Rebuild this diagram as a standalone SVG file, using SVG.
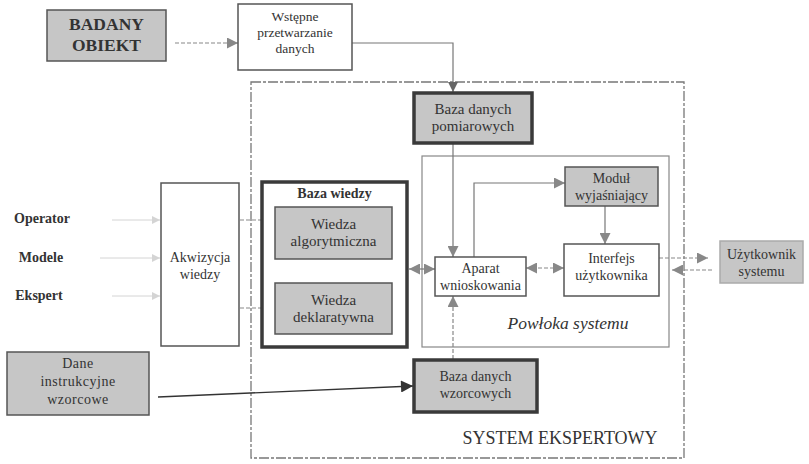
<svg xmlns="http://www.w3.org/2000/svg" width="809" height="464" viewBox="0 0 809 464">
<defs>
<marker id="ah" viewBox="0 0 10 10" refX="10" refY="5" markerWidth="10" markerHeight="10" markerUnits="userSpaceOnUse" orient="auto-start-reverse"><path d="M0,0 L10,5 L0,10 z" fill="#666"/></marker>
<marker id="ahl" viewBox="0 0 10 10" refX="10" refY="5" markerWidth="13" markerHeight="11" markerUnits="userSpaceOnUse" orient="auto-start-reverse"><path d="M0,0 L10,5 L0,10 z" fill="#888"/></marker>
<marker id="ahd" viewBox="0 0 10 10" refX="10" refY="5" markerWidth="13" markerHeight="12" markerUnits="userSpaceOnUse" orient="auto"><path d="M0,0 L10,5 L0,10 z" fill="#333"/></marker>
<marker id="ahf" viewBox="0 0 10 10" refX="10" refY="5" markerWidth="8" markerHeight="8" markerUnits="userSpaceOnUse" orient="auto"><path d="M0,0 L10,5 L0,10 z" fill="#d4d4d4"/></marker>
</defs>
<style>
text{font-family:"Liberation Serif","Times New Roman",serif;fill:#333;text-anchor:middle}
.t{font-size:14px}
.b{font-weight:bold}
.box{fill:#fff;stroke:#555;stroke-width:1.5}
.gbox{fill:#c6c6c6;stroke:#555;stroke-width:1.5}
.thick{fill:#c6c6c6;stroke:#3a3a3a;stroke-width:3.5}
.thickw{fill:#fff;stroke:#3a3a3a;stroke-width:3.5}
.ln{fill:none;stroke:#777;stroke-width:1.2}
.dash{fill:none;stroke:#888;stroke-width:1.2;stroke-dasharray:4 2}
.faint{fill:none;stroke:#d4d4d4;stroke-width:1}
</style>
<rect width="809" height="464" fill="#fff"/>
<g id="system-ekspertowy">
<rect x="251" y="82" width="433" height="376" fill="none" stroke="#777" stroke-width="1.3" stroke-dasharray="10 2 3 2"/>
<text x="560" y="444" style="font-size:18px">SYSTEM EKSPERTOWY</text>
</g>
<g id="powloka-systemu">
<rect x="422" y="156" width="247" height="191" fill="none" stroke="#888" stroke-width="1.2"/>
<text x="568" y="329" style="font-size:17.5px;font-style:italic">Powłoka systemu</text>
</g>
<g id="connectors">
<path class="dash" d="M175,43 H238" marker-end="url(#ahl)"/>
<path class="ln" d="M352,43 H453 V92" marker-end="url(#ah)"/>
<path class="ln" d="M453,143 V257" marker-end="url(#ahl)"/>
<path class="ln" d="M474,257 V183 H565" marker-end="url(#ahl)"/>
<path class="ln" d="M605,206 V244" marker-end="url(#ahl)"/>
<path class="dash" d="M526,268 H564" marker-start="url(#ahl)" marker-end="url(#ahl)"/>
<path class="ln" d="M409,269 H435" marker-start="url(#ahl)" marker-end="url(#ahl)"/>
<path class="dash" d="M659,258 H708" marker-end="url(#ahl)"/>
<path class="dash" d="M712,270 H672" marker-end="url(#ahl)"/>
<path class="dash" d="M240,220 H274" marker-end="url(#ahl)"/>
<path class="dash" d="M240,308 H274" marker-end="url(#ahl)"/>
<path class="dash" d="M453,359 V296" marker-end="url(#ahl)"/>
<path d="M158,397 L413,386" fill="none" stroke="#333" stroke-width="1.3" marker-end="url(#ahd)"/>
<path class="faint" d="M112,220 H160" marker-end="url(#ahf)"/>
<path class="faint" d="M100,258 H160" marker-end="url(#ahf)"/>
<path class="faint" d="M112,296 H160" marker-end="url(#ahf)"/>
</g>
<g id="badany-obiekt">
<rect class="gbox" x="47" y="10" width="119" height="51"/>
<text class="b" x="106.5" y="30" style="font-size:17.5px">BADANY</text>
<text class="b" x="106.5" y="51" style="font-size:17.5px">OBIEKT</text>
</g>
<g id="wstepne-przetwarzanie">
<rect class="box" x="238" y="4" width="114" height="66"/>
<text class="t" x="295" y="21" style="font-size:13.5px">Wstępne</text>
<text class="t" x="295" y="37" style="font-size:13.5px">przetwarzanie</text>
<text class="t" x="295" y="53" style="font-size:13.5px">danych</text>
</g>
<g id="baza-danych-pomiarowych">
<rect class="thick" x="414" y="93" width="118" height="50"/>
<text class="t" x="473" y="114" style="font-size:15px">Baza danych</text>
<text class="t" x="473" y="131" style="font-size:15px">pomiarowych</text>
</g>
<g id="modul-wyjasniajacy">
<rect class="gbox" x="565" y="167" width="93" height="39"/>
<text class="t" x="611.5" y="183">Moduł</text>
<text class="t" x="611.5" y="200">wyjaśniający</text>
</g>
<g id="interfejs-uzytkownika">
<rect class="box" x="564" y="244" width="95" height="52"/>
<text class="t" x="611.5" y="263">Interfejs</text>
<text class="t" x="611.5" y="280">użytkownika</text>
</g>
<g id="aparat-wnioskowania">
<rect class="box" x="435" y="257" width="91" height="39"/>
<text class="t" x="480.5" y="273">Aparat</text>
<text class="t" x="480.5" y="290">wnioskowania</text>
</g>
<g id="baza-wiedzy">
<rect class="thickw" x="262" y="182" width="145" height="165"/>
<text class="t b" x="334.5" y="198">Baza wiedzy</text>
</g>
<g id="wiedza-algorytmiczna">
<rect class="gbox" x="275" y="207" width="117" height="52"/>
<text class="t" x="333.5" y="229" style="font-size:15px">Wiedza</text>
<text class="t" x="333.5" y="246" style="font-size:15px">algorytmiczna</text>
</g>
<g id="wiedza-deklaratywna">
<rect class="gbox" x="275" y="283" width="117" height="51"/>
<text class="t" x="333.5" y="305" style="font-size:15px">Wiedza</text>
<text class="t" x="333.5" y="322" style="font-size:15px">deklaratywna</text>
</g>
<g id="akwizycja-wiedzy">
<rect class="box" x="161" y="183" width="78" height="163"/>
<text class="t" x="200" y="262">Akwizycja</text>
<text class="t" x="200" y="279">wiedzy</text>
</g>
<g id="operator"><text class="b" x="42" y="223" style="font-size:14px">Operator</text></g>
<g id="modele"><text class="b" x="41" y="262" style="font-size:14px">Modele</text></g>
<g id="ekspert"><text class="b" x="39" y="300" style="font-size:14px">Ekspert</text></g>
<g id="uzytkownik-systemu">
<rect class="gbox" x="720" y="241" width="83" height="42" style="stroke:#aaa"/>
<text class="t" x="761.5" y="259">Użytkownik</text>
<text class="t" x="761.5" y="276">systemu</text>
</g>
<g id="dane-instrukcyjne">
<rect class="gbox" x="7" y="352" width="142" height="63"/>
<text class="t" x="78" y="368" style="letter-spacing:0.5px">Dane</text>
<text class="t" x="78" y="386" style="letter-spacing:0.5px">instrukcyjne</text>
<text class="t" x="78" y="404" style="letter-spacing:0.5px">wzorcowe</text>
</g>
<g id="baza-danych-wzorcowych">
<rect class="thick" x="414" y="360" width="123" height="52"/>
<text class="t" x="475.5" y="381">Baza danych</text>
<text class="t" x="475.5" y="398">wzorcowych</text>
</g>
</svg>
